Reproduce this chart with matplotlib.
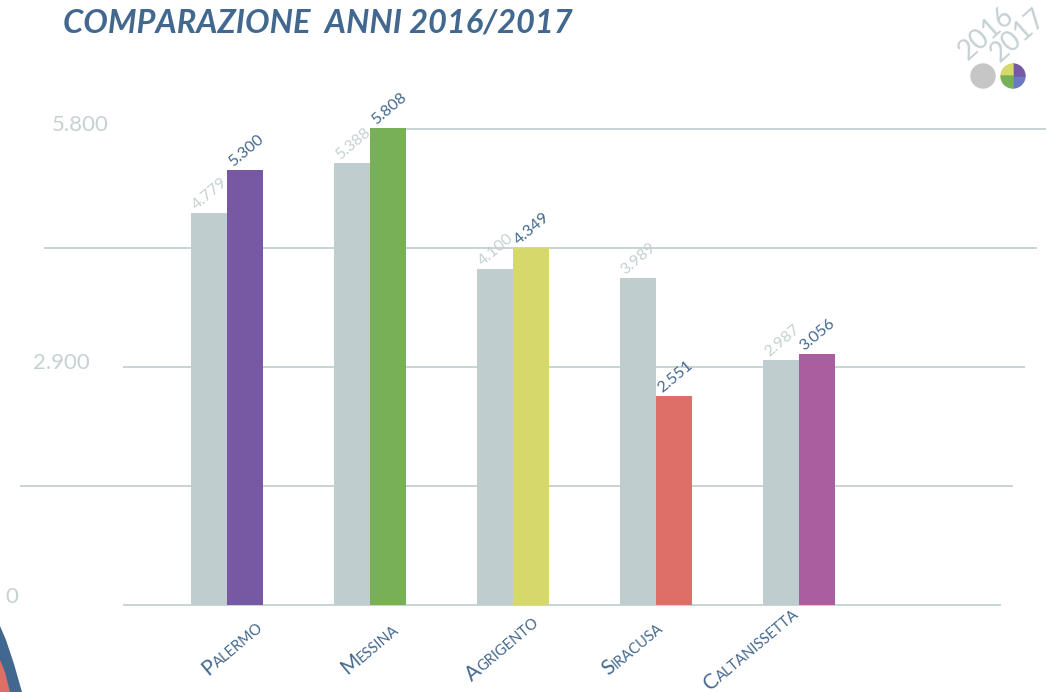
"""
Bar chart: comparison 2016 / 2017 by province.
"""

import numpy as np
import matplotlib
matplotlib.use("Agg")
import matplotlib.pyplot as plt
from matplotlib.patches import Circle, Wedge, Polygon

# ============================================================
# DATA
# ============================================================

provinces = ["Palermo", "Messina", "Agrigento", "Siracusa", "Caltanissetta"]
values_2016 = [4779, 5388, 4100, 3989, 2987]
values_2017 = [5300, 5808, 4349, 2551, 3056]
labels_2016 = ["4.779", "5.388", "4.100", "3.989", "2.987"]
labels_2017 = ["5.300", "5.808", "4.349", "2.551", "3.056"]
grid_values = [0, 1450, 2900, 4350, 5800]
ytick_values = [0, 2900, 5800]
ytick_labels = ["0", "2.900", "5.800"]

# ============================================================
# STYLE
# ============================================================

FONT = "Lato"
BLUE = "#43688f"
GRAY_BAR = "#c0cdce"
GRAY_TXT = "#c5d1d2"
GRID = "#bfcccd"
colors_2017 = ["#7759a3", "#78b057", "#d7d86b", "#de6f66", "#ab5e9f"]

W, H = 1046, 692
# pixel layout: group centre of category i at X0 + DX*i, baseline at Y0
X0, DX = 227.0, 143.0
Y0, PX_PER_UNIT = 605.0, 476.0 / 5800.0
BAR_W = 36.0 / DX
ANGLE = 40

fig = plt.figure(figsize=(W / 100, H / 100), dpi=100)
ax = fig.add_axes([0, 0, 1, 1])
ax.set_xlim(-X0 / DX, (W - X0) / DX)
ax.set_ylim(-(H - Y0) / PX_PER_UNIT, Y0 / PX_PER_UNIT)
ax.axis("off")


def px_to_x(px):
    return (px - X0) / DX


def py_to_y(py):
    return (Y0 - py) / PX_PER_UNIT


# staggered gridlines (left / right ends in pixels)
grid_ends = {0: (123, 1001), 1450: (20, 1013), 2900: (123, 1025),
             4350: (44, 1037), 5800: (372, 1046)}
for gv in grid_values:
    x1, x2 = grid_ends[gv]
    ax.hlines(gv, px_to_x(x1), px_to_x(x2), color=GRID, lw=1.2, zorder=1)

# y labels (right edge, baseline in pixels)
ytick_pos = {0: (18, 603), 2900: (90, 369), 5800: (109, 131)}
for v, lab in zip(ytick_values, ytick_labels):
    xr, yb = ytick_pos[v]
    ax.text(px_to_x(xr), py_to_y(yb), lab, ha="right", va="baseline",
            fontsize=16, color=GRAY_TXT, family=FONT)

# bars
x = np.arange(len(provinces))
ax.bar(x - BAR_W / 2, values_2016, width=BAR_W, color=GRAY_BAR, zorder=2)
ax.bar(x + BAR_W / 2, values_2017, width=BAR_W, color=colors_2017, zorder=2)

# value labels
for i in range(len(provinces)):
    ax.text(x[i] - BAR_W + 0.04, values_2016[i] + 3 / PX_PER_UNIT, labels_2016[i],
            rotation=ANGLE, rotation_mode="anchor", ha="left", va="baseline",
            fontsize=11.5, color=GRAY_TXT, family=FONT)
    ax.text(x[i] + 0.04, values_2017[i] + 3 / PX_PER_UNIT, labels_2017[i],
            rotation=ANGLE, rotation_mode="anchor", ha="left", va="baseline",
            fontsize=11.5, color=BLUE, family=FONT)

# category labels in small caps (big first letter + small rest)
renderer = fig.canvas.get_renderer()
cos_a, sin_a = np.cos(np.radians(ANGLE)), np.sin(np.radians(ANGLE))
mid_offsets = [9, 3, -7, -20, -44]
FS_BIG, FS_SMALL = 15, 10.5
for i, name in enumerate(provinces):
    first, rest = name[0], name[1:].upper()
    t1 = ax.text(0, 0, first, fontsize=FS_BIG, family=FONT)
    t2 = ax.text(0, 0, rest, fontsize=FS_SMALL, family=FONT)
    w1 = t1.get_window_extent(renderer).width
    w2 = t2.get_window_extent(renderer).width
    t1.remove()
    t2.remove()
    total = w1 + w2
    mx = X0 + DX * i + mid_offsets[i]
    my = 653.0
    sx = mx - total / 2 * cos_a
    sy = my + total / 2 * sin_a
    ax.text(px_to_x(sx), py_to_y(sy), first, rotation=ANGLE,
            rotation_mode="anchor", ha="left", va="baseline",
            fontsize=FS_BIG, color=BLUE, family=FONT)
    ax.text(px_to_x(sx + w1 * cos_a), py_to_y(sy - w1 * sin_a), rest,
            rotation=ANGLE, rotation_mode="anchor", ha="left", va="baseline",
            fontsize=FS_SMALL, color=BLUE, family=FONT)

# title
fig.text(63 / W, 1 - 32 / H, "COMPARAZIONE  ANNI 2016/2017", fontsize=23.5,
         fontweight="bold", fontstyle="italic", color=BLUE, family=FONT,
         ha="left", va="baseline")

# ============================================================
# DECORATIONS (legend + corner), in pixel coordinates
# ============================================================

deco = fig.add_axes([0, 0, 1, 1], facecolor="none")
deco.set_xlim(0, W)
deco.set_ylim(H, 0)
deco.axis("off")

deco.add_patch(Circle((983, 76), 12, color="#c6c6c6"))
# y axis inverted: wedge k covers bottom-right, top-right, top-left, bottom-left
quad_colors = ["#6a79c0", "#7759a3", "#d7d86b", "#78b057"]
for k, c in enumerate(quad_colors):
    deco.add_patch(Wedge((1013, 76), 12, -90 * k, -90 * k + 90, color=c))
deco.text(968, 61, "2016", rotation=42, rotation_mode="anchor", ha="left",
          va="baseline", fontsize=20, color=GRAY_TXT, family=FONT)
deco.text(1000, 63, "2017", rotation=42, rotation_mode="anchor", ha="left",
          va="baseline", fontsize=20, color=GRAY_TXT, family=FONT)

deco.add_patch(Polygon([[0, 626], [6, 640], [14, 664], [22, 692], [0, 692]],
                       closed=True, color=BLUE, lw=0))
deco.add_patch(Polygon([[0, 660], [5, 672], [10, 692], [0, 692]],
                       closed=True, color="#de6f66", lw=0))

fig.savefig("out.png", dpi=100)
